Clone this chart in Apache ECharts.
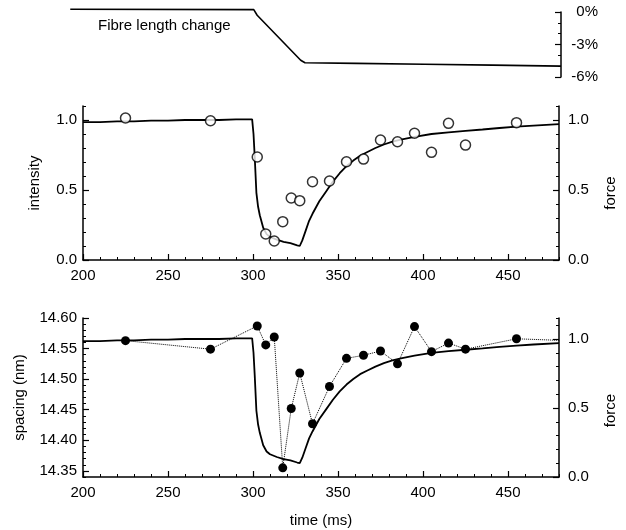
<!DOCTYPE html>
<html>
<head>
<meta charset="utf-8">
<script src="https://cdn.jsdelivr.net/npm/echarts@6/dist/echarts.min.js"></script>
<style>
html,body{margin:0;padding:0;background:#fff;}
#chart{width:626px;height:530px;}
</style>
</head>
<body>
<div id="chart"></div>
<script>
// ---- data ----
const lengthTime  = [192.5, 300, 302, 327.5, 330, 360, 400, 440, 480];
const lengthValue = [0.25, 0.22, -0.3, -4.45, -4.68, -4.74, -4.82, -4.9, -5.0];

const forceTime  = [200,210,220,230,240,250,260,270,280,290,299.5,300.3,301,302,303,304,306,308,310,314,318,322,326,327.5,329,331,333,335,339,343,347,351,355,359,363,367,372,377,382,387,395,405,415,425,435,445,455,465,480];
const forceValue = [0.985,0.985,0.99,0.99,0.995,0.995,1.0,1.0,1.0,1.005,1.005,0.9,0.74,0.48,0.38,0.32,0.23,0.185,0.165,0.145,0.13,0.12,0.105,0.1,0.14,0.21,0.28,0.33,0.42,0.49,0.56,0.62,0.67,0.71,0.745,0.77,0.8,0.825,0.845,0.86,0.88,0.9,0.912,0.922,0.932,0.943,0.952,0.96,0.97];

const intensityTime  = [225,275,302.5,307.5,312.5,317.5,322.5,327.5,335,345,355,365,375,385,395,405,415,425,455];
const intensityValue = [1.014,0.995,0.736,0.186,0.136,0.274,0.443,0.424,0.559,0.564,0.702,0.721,0.857,0.845,0.905,0.769,0.976,0.821,0.981];

const spacingTime  = [225,275,302.5,307.5,312.5,317.5,322.5,327.5,335,345,355,365,375,385,395,405,415,425,455,485];
const spacingValue = [14.563,14.549,14.587,14.556,14.569,14.355,14.452,14.510,14.427,14.488,14.534,14.539,14.546,14.525,14.586,14.545,14.559,14.549,14.566,14.563];

const timeTicks    = [200,250,300,350,400,450];
const unitTicks    = [0,0.5,1.0];
const spacingTicks = [14.35,14.40,14.45,14.50,14.55,14.60];
const lengthTicks  = [0,-3,-6];

// ---- helpers ----
const FONT = 'Liberation Sans';
const BLACK = '#000';
const zip = (a, b) => a.map((v, i) => [v, b[i]]);

function minorAxis(gridIndex, position, min, max, interval) {
  return {
    type: 'value', gridIndex, position, min, max, interval,
    axisLine: {show: true, onZero: false, lineStyle: {color: BLACK, width: 1.5}},
    axisTick: {show: true, inside: true, length: 3, lineStyle: {color: BLACK, width: 1}},
    axisLabel: {show: false},
    splitLine: {show: false}
  };
}
function majorAxis(gridIndex, position, min, max, ticks, fmt, labelExtra, nameExtra) {
  return Object.assign({
    type: 'value', gridIndex, position, min, max,
    axisLine: {show: false, onZero: false},
    axisTick: {show: true, inside: true, length: 6, customValues: ticks, lineStyle: {color: BLACK, width: 1.2}},
    axisLabel: Object.assign({show: true, customValues: ticks, formatter: fmt, color: BLACK, fontFamily: FONT, fontSize: 15}, labelExtra || {}),
    splitLine: {show: false}
  }, nameExtra || {});
}
const f1 = v => Number(v).toFixed(1);
const f2 = v => Number(v).toFixed(2);
const nameStyle = (extra) => Object.assign({color: BLACK, fontFamily: FONT, fontSize: 15}, extra || {});

const option = {
  animation: false,
  backgroundColor: '#fff',
  textStyle: {fontFamily: FONT, color: BLACK},
  grid: [
    {left: 66, right: 65, top: 12, height: 65},
    {left: 83, right: 65, top: 106, height: 154},
    {left: 83, right: 65, top: 318, height: 159}
  ],
  xAxis: [
    {type: 'value', gridIndex: 0, min: 190, max: 480, show: false},
    minorAxis(1, 'bottom', 200, 480, 10),
    majorAxis(1, 'bottom', 200, 480, timeTicks, v => String(v), {margin: 8}),
    minorAxis(2, 'bottom', 200, 480, 10),
    majorAxis(2, 'bottom', 200, 480, timeTicks, v => String(v), {margin: 8},
      {name: 'time (ms)', nameLocation: 'middle', nameGap: 36, nameTextStyle: nameStyle()})
  ],
  yAxis: [
    minorAxis(0, 'right', -6, 0, 1),
    majorAxis(0, 'right', -6, 0, lengthTicks, v => v + '%', {margin: 37, align: 'right'}),
    minorAxis(1, 'left', 0, 1.1, 0.1),
    majorAxis(1, 'left', 0, 1.1, unitTicks, f1, {margin: 6},
      {name: 'intensity', nameLocation: 'middle', nameGap: 41, nameTextStyle: nameStyle()}),
    minorAxis(1, 'right', 0, 1.1, 0.1),
    majorAxis(1, 'right', 0, 1.1, unitTicks, f1, {margin: 9},
      {name: 'force', nameLocation: 'middle', nameGap: 44, nameTextStyle: nameStyle({padding: [0, 20, 0, 0]})}),
    minorAxis(2, 'left', 14.34, 14.60, 0.01),
    majorAxis(2, 'left', 14.34, 14.60, spacingTicks, f2, {margin: 6},
      {name: 'spacing (nm)', nameLocation: 'middle', nameGap: 56, nameTextStyle: nameStyle()}),
    minorAxis(2, 'right', 0, 1.152, 0.1),
    majorAxis(2, 'right', 0, 1.152, unitTicks, f1, {margin: 9},
      {name: 'force', nameLocation: 'middle', nameGap: 44, nameTextStyle: nameStyle({padding: [0, 26, 0, 0]})})
  ],
  graphic: [
    {type: 'text', left: 98, top: 18, style: {text: 'Fibre length change', fontFamily: FONT, fontSize: 15, fill: BLACK}}
  ],
  series: [
    {type: 'line', name: 'length', xAxisIndex: 0, yAxisIndex: 0, data: zip(lengthTime, lengthValue),
      symbol: 'none', clip: false, lineStyle: {color: BLACK, width: 1.6}},
    {type: 'line', name: 'force', xAxisIndex: 1, yAxisIndex: 4, data: zip(forceTime, forceValue),
      symbol: 'none', lineStyle: {color: BLACK, width: 1.8}, z: 2},
    {type: 'scatter', name: 'intensity', xAxisIndex: 1, yAxisIndex: 2, data: zip(intensityTime, intensityValue),
      symbol: 'circle', symbolSize: 10, itemStyle: {color: '#fff', borderColor: BLACK, borderWidth: 1.5}, z: 4},
    {type: 'line', name: 'force2', xAxisIndex: 3, yAxisIndex: 8, data: zip(forceTime, forceValue),
      symbol: 'none', lineStyle: {color: BLACK, width: 1.8}, z: 2},
    {type: 'line', name: 'spacing', xAxisIndex: 3, yAxisIndex: 6, data: zip(spacingTime, spacingValue),
      symbol: 'circle', symbolSize: 9, showAllSymbol: true, clip: true,
      itemStyle: {color: BLACK, borderColor: BLACK, borderWidth: 0},
      lineStyle: {color: BLACK, width: 1, type: 'dotted'}, z: 4}
  ]
};

const chart = echarts.init(document.getElementById('chart'), null, {renderer: 'canvas'});
chart.setOption(option);
</script>
</body>
</html>
